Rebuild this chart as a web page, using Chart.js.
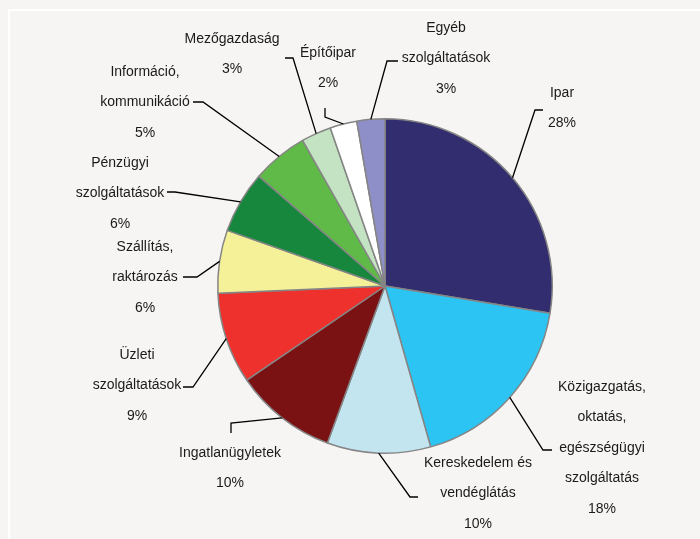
<!DOCTYPE html>
<html>
<head>
<meta charset="utf-8">
<script src="https://cdn.jsdelivr.net/npm/chart.js@4.4.1/dist/chart.umd.min.js"></script>
<style>
  html, body { margin: 0; padding: 0; background: #f6f5f3; }
  #wrap { width: 700px; height: 539px; }
</style>
</head>
<body>
<div id="wrap"><canvas id="myChart" width="700" height="539"></canvas></div>
<script>
// Sectors and their shares (%)
const categories = [
  "Ipar",
  "Közigazgatás, oktatás, egészségügyi szolgáltatás",
  "Kereskedelem és vendéglátás",
  "Ingatlanügyletek",
  "Üzleti szolgáltatások",
  "Szállítás, raktározás",
  "Pénzügyi szolgáltatások",
  "Információ, kommunikáció",
  "Mezőgazdaság",
  "Építőipar",
  "Egyéb szolgáltatások",
];
const shares = [27.6, 18.0, 10.0, 9.9, 8.8, 6.1, 6.0, 5.4, 2.9, 2.6, 2.7];

// Percent texts as printed on the chart
const percentLabels = ["28%", "18%", "10%", "10%", "9%", "6%", "6%", "5%", "3%", "2%", "3%"];

// Label text split into lines
const labelLines = [
  ["Ipar"],
  ["Közigazgatás,", "oktatás,", "egészségügyi", "szolgáltatás"],
  ["Kereskedelem és", "vendéglátás"],
  ["Ingatlanügyletek"],
  ["Üzleti", "szolgáltatások"],
  ["Szállítás,", "raktározás"],
  ["Pénzügyi", "szolgáltatások"],
  ["Információ,", "kommunikáció"],
  ["Mezőgazdaság"],
  ["Építőipar"],
  ["Egyéb", "szolgáltatások"],
];

const colors = [
  "#312d6e", "#2cc4f2", "#c3e5f0", "#7a1214", "#ee312d", "#f5f199",
  "#17873d", "#5fba47", "#c4e3c3", "#ffffff", "#8e8fc8",
];

// Label placement: first text line centre and leader elbow points
const labelLayout = [
  { x: 562, y: 93,  path: [[535, 110], [543, 110]] },
  { x: 602, y: 387, path: [[543, 450], [552, 450]] },
  { x: 478, y: 463, path: [[410, 497], [418, 497]] },
  { x: 230, y: 453, path: [[231, 423], [231, 433]] },
  { x: 137, y: 355, path: [[193, 387], [183, 387]] },
  { x: 145, y: 247, path: [[197, 277], [183, 277]] },
  { x: 120, y: 163, path: [[175, 192], [167, 192]] },
  { x: 145, y: 72,  path: [[203, 102], [193, 102]] },
  { x: 232, y: 39,  path: [[293, 58], [285, 58]] },
  { x: 328, y: 53,  path: [[325, 117], [325, 108]] },
  { x: 446, y: 28,  path: [[387, 61], [398, 61]] },
];

// Background panel with the white frame line on top and left
const backgroundPlugin = {
  id: "panel",
  beforeDraw(chart) {
    const ctx = chart.ctx;
    ctx.save();
    ctx.fillStyle = "#f6f5f3";
    ctx.fillRect(0, 0, chart.width, chart.height);
    ctx.strokeStyle = "#ffffff";
    ctx.lineWidth = 2;
    ctx.beginPath();
    ctx.moveTo(chart.width, 10);
    ctx.lineTo(9, 10);
    ctx.lineTo(9, chart.height);
    ctx.stroke();
    ctx.restore();
  },
};

// Leader lines and multi-line labels
const labelsPlugin = {
  id: "pieLabels",
  afterDatasetsDraw(chart) {
    const ctx = chart.ctx;
    const meta = chart.getDatasetMeta(0);
    ctx.save();
    ctx.strokeStyle = "#000000";
    ctx.lineWidth = 1.3;
    ctx.fillStyle = "#1a1a1a";
    ctx.font = "14px 'Liberation Sans', Arial, sans-serif";
    ctx.textAlign = "center";
    ctx.textBaseline = "middle";

    meta.data.forEach((arc, i) => {
      const mid = (arc.startAngle + arc.endAngle) / 2;
      const sx = arc.x + Math.cos(mid) * arc.outerRadius;
      const sy = arc.y + Math.sin(mid) * arc.outerRadius;
      const lay = labelLayout[i];

      ctx.beginPath();
      ctx.moveTo(sx, sy);
      lay.path.forEach((p) => ctx.lineTo(p[0], p[1]));
      ctx.stroke();

      const lines = labelLines[i].concat([percentLabels[i]]);
      lines.forEach((t, j) => ctx.fillText(t, lay.x, lay.y + j * 30.5));
    });
    ctx.restore();
  },
};

const ctx = document.getElementById("myChart").getContext("2d");
const myChart = new Chart(ctx, {
  type: "pie",
  data: {
    labels: categories,
    datasets: [
      {
        data: shares,
        backgroundColor: colors,
        borderColor: "#858585",
        borderWidth: 1.5,
      },
    ],
  },
  options: {
    responsive: false,
    animation: false,
    layout: {
      padding: { top: 118, bottom: 85, left: 217, right: 147 },
    },
    plugins: {
      legend: { display: false },
      tooltip: { enabled: false },
    },
  },
  plugins: [backgroundPlugin, labelsPlugin],
});
</script>
</body>
</html>
